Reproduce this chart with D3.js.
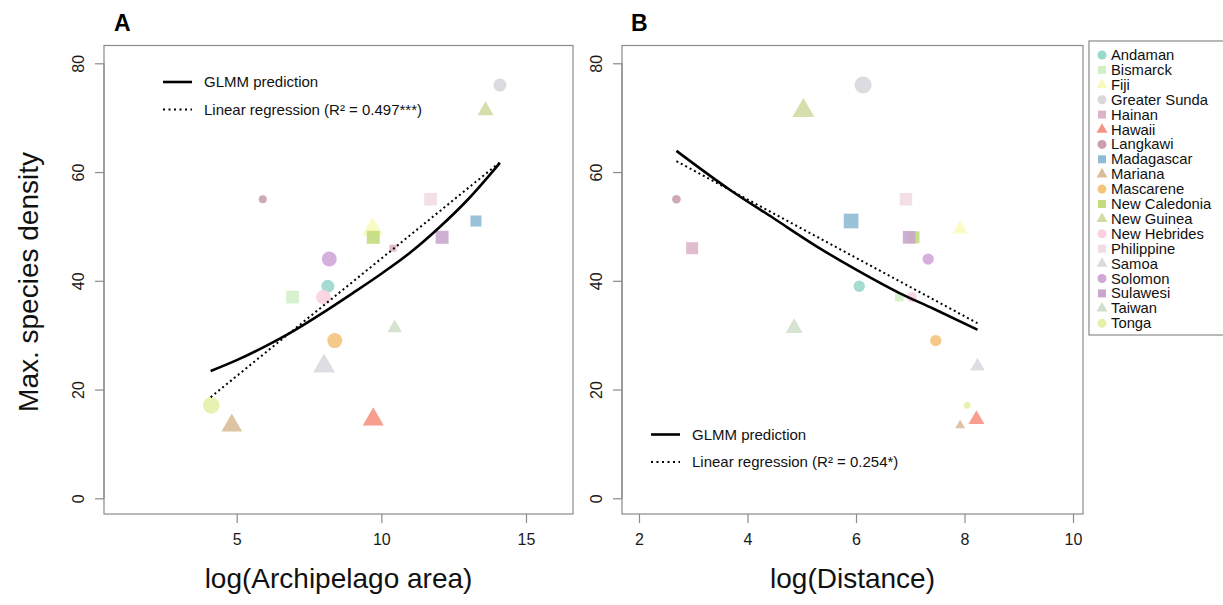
<!DOCTYPE html>
<html>
<head>
<meta charset="utf-8">
<script src="https://cdn.jsdelivr.net/npm/d3@7"></script>
<style>
  body { margin: 0; background: #fff; }
  svg { font-family: "Liberation Sans", Arial, sans-serif; }
</style>
</head>
<body>
<svg id="chart" width="1223" height="605"></svg>
<script>
// archipelagos, in legend order
var islands = ['Andaman', 'Bismarck', 'Fiji', 'Greater Sunda', 'Hainan', 'Hawaii', 'Langkawi',
  'Madagascar', 'Mariana', 'Mascarene', 'New Caledonia', 'New Guinea', 'New Hebrides',
  'Philippine', 'Samoa', 'Solomon', 'Sulawesi', 'Taiwan', 'Tonga'];
var shapes = ['circle', 'square', 'triangle', 'circle', 'square', 'triangle', 'circle',
  'square', 'triangle', 'circle', 'square', 'triangle', 'circle',
  'square', 'triangle', 'circle', 'square', 'triangle', 'circle'];
var colors = ['#9bd8cd', '#d3efc9', '#f9f9bd', '#d9d7db', '#ddb5c9', '#f69383', '#caa0ac',
  '#8fbbd5', '#d9be99', '#f4c37c', '#c3dc7c', '#d1dca2', '#fad0e1',
  '#f1dbe4', '#dcd8e0', '#d1a7d8', '#c9a7cd', '#d1e0cc', '#e7f0a8'];

var density = [39, 37, 49.5, 76, 46, 14.5, 55, 51, 13.4, 29, 48, 71.3, 37, 55, 24.3, 44, 48, 31.3, 17.1];
var logArea = [8.15, 6.93, 9.7, 14.1, 10.4, 9.72, 5.9, 13.27, 4.83, 8.39, 9.72, 13.6, 8.0, 11.7, 8.02, 8.2, 12.1, 10.46, 4.12];
var logDist = [6.06, 6.8, 7.92, 6.13, 2.98, 8.22, 2.69, 5.91, 7.92, 7.47, 7.06, 5.03, 7.03, 6.92, 8.24, 7.33, 6.98, 4.86, 8.05];

// marker weight shown in each panel
var weightA = [13, 12.7, 21, 13, 7, 21, 8, 11, 20.7, 15, 13, 16, 14.7, 12.7, 22, 15, 13, 14.7, 16.7];
var weightB = [11.3, 8.7, 15, 17, 12, 16, 8.7, 14.7, 10, 11.3, 12, 22, 10, 12.5, 14.7, 11.3, 12.7, 17, 6.7];

// fitted curves
var glmmAx = [4.1, 5, 6, 7, 8, 9, 10, 11, 12, 13, 14.1];
var glmmAy = [23.4, 25.4, 28.0, 30.9, 34.2, 37.7, 41.3, 45.2, 49.8, 55.0, 61.7];
var linAx = [4.1, 14.1];
var linAy = [18.6, 61.8];
var glmmBx = [2.69, 3.68, 4.48, 5.28, 6.01, 6.81, 7.42, 8.24];
var glmmBy = [63.9, 56.7, 51.5, 46.3, 42.0, 37.7, 34.9, 31.0];
var linBx = [2.69, 8.24];
var linBy = [62.0, 32.2];

var yTicks = [0, 20, 40, 60, 80];
var xTicksA = [5, 10, 15];
var xTicksB = [2, 4, 6, 8, 10];

var svg = d3.select('#chart');

var y = d3.scaleLinear().domain([0, 80]).range([498.3, 63.3]);
var sizeScale = d3.scaleLinear().domain([0, 22]).range([0, 22]);

function symbolPath(shape, w) {
  var area;
  if (shape === 'circle') area = Math.PI * w * w / 4;
  else if (shape === 'square') area = w * w;
  else area = Math.sqrt(3) / 4 * w * w;
  var type = shape === 'circle' ? d3.symbolCircle : (shape === 'square' ? d3.symbolSquare : d3.symbolTriangle);
  return d3.symbol().type(type).size(area)();
}

function drawPanel(p) {
  var g = svg.append('g');
  var x = d3.scaleLinear().domain(p.xDomain).range(p.xRange);

  // points
  var pts = islands.map(function(name, i) {
    return { name: name, x: p.xs[i], y: density[i], w: p.weights[i], shape: shapes[i], color: colors[i] };
  });
  g.selectAll('path.pt')
    .data(pts)
    .enter().append('path')
      .attr('class', 'pt')
      .attr('d', function(d) { return symbolPath(d.shape, sizeScale(d.w)); })
      .attr('transform', function(d) { return 'translate(' + x(d.x) + ',' + y(d.y) + ')'; })
      .attr('fill', function(d) { return d.color; })
      .attr('fill-opacity', 0.9);

  var line = d3.line()
    .x(function(d) { return x(d[0]); })
    .y(function(d) { return y(d[1]); })
    .curve(d3.curveMonotoneX);

  g.append('path')
    .datum(d3.zip(p.glmmX, p.glmmY))
    .attr('d', line)
    .attr('fill', 'none')
    .attr('stroke', '#000')
    .attr('stroke-width', 2.6);

  g.append('path')
    .datum(d3.zip(p.linX, p.linY))
    .attr('d', line)
    .attr('fill', 'none')
    .attr('stroke', '#000')
    .attr('stroke-width', 2)
    .attr('stroke-dasharray', '2,3');

  // box
  g.append('rect')
    .attr('x', p.box[0]).attr('y', 45.5)
    .attr('width', p.box[1] - p.box[0]).attr('height', 514 - 45.5)
    .attr('fill', 'none')
    .attr('stroke', '#8a8a8a')
    .attr('stroke-width', 1.2);

  // axes
  var xAxis = g.append('g')
    .attr('transform', 'translate(0,514)')
    .call(d3.axisBottom(x).tickValues(p.xTicks).tickSize(9).tickPadding(11).tickFormat(d3.format('d')));
  var yAxis = g.append('g')
    .attr('transform', 'translate(' + p.box[0] + ',0)')
    .call(d3.axisLeft(y).tickValues(yTicks).tickSize(9).tickFormat(d3.format('d')));
  [xAxis, yAxis].forEach(function(a) {
    a.attr('font-size', 16).attr('font-family', '"Liberation Sans", Arial, sans-serif');
    a.select('.domain').attr('stroke', '#8a8a8a').attr('stroke-width', 1.2);
    a.selectAll('.tick line').attr('stroke', '#8a8a8a').attr('stroke-width', 1.2);
    a.selectAll('.tick text').attr('fill', '#1a1a1a');
  });
  xAxis.select('.domain').remove();
  yAxis.select('.domain').attr('d', 'M0,' + y(0) + 'V' + y(80));
  yAxis.selectAll('.tick text')
    .attr('x', null).attr('dy', null)
    .attr('text-anchor', 'middle')
    .attr('transform', 'translate(-26,0) rotate(-90)')
    .attr('dy', '0.35em');

  // panel letter
  g.append('text')
    .attr('x', p.letterX).attr('y', 31)
    .style('font-size', '23px').style('font-weight', 'bold')
    .text(p.letter);

  // axis title
  g.append('text')
    .attr('x', (p.box[0] + p.box[1]) / 2).attr('y', 588)
    .attr('text-anchor', 'middle')
    .style('font-size', '28px')
    .attr('fill', '#111')
    .text(p.xTitle);

  // line legend
  var lg = g.append('g').attr('transform', 'translate(' + p.legend[0] + ',' + p.legend[1] + ')');
  lg.append('line').attr('x1', 0).attr('x2', 29).attr('y1', 0).attr('y2', 0)
    .attr('stroke', '#000').attr('stroke-width', 2.6);
  lg.append('line').attr('x1', 0).attr('x2', 29).attr('y1', 27.5).attr('y2', 27.5)
    .attr('stroke', '#000').attr('stroke-width', 2).attr('stroke-dasharray', '2,3.5');
  lg.append('text').attr('x', 41).attr('y', 5).style('font-size', '15px').attr('fill', '#111').text('GLMM prediction');
  lg.append('text').attr('x', 41).attr('y', 32.5).style('font-size', '15px').attr('fill', '#111').text(p.linLabel);
}

drawPanel({
  letter: 'A', letterX: 114,
  xs: logArea, weights: weightA,
  xDomain: [5, 15], xRange: [236.7, 526], xTicks: xTicksA,
  box: [104, 573],
  glmmX: glmmAx, glmmY: glmmAy, linX: linAx, linY: linAy,
  xTitle: 'log(Archipelago area)',
  legend: [163, 82], linLabel: 'Linear regression (R\u00b2 = 0.497***)'
});

drawPanel({
  letter: 'B', letterX: 631,
  xs: logDist, weights: weightB,
  xDomain: [2, 10], xRange: [639, 1073], xTicks: xTicksB,
  box: [622, 1083],
  glmmX: glmmBx, glmmY: glmmBy, linX: linBx, linY: linBy,
  xTitle: 'log(Distance)',
  legend: [651, 434.5], linLabel: 'Linear regression (R\u00b2 = 0.254*)'
});

// shared y title
svg.append('text')
  .attr('transform', 'translate(38,282) rotate(-90)')
  .attr('text-anchor', 'middle')
  .style('font-size', '28px')
  .attr('fill', '#111')
  .text('Max. species density');

// island legend
var key = svg.append('g');
key.append('rect')
  .attr('x', 1089).attr('y', 41)
  .attr('width', 160).attr('height', 294)
  .attr('fill', 'none')
  .attr('stroke', '#8a8a8a')
  .attr('stroke-width', 1.2);
var item = key.selectAll('g.item')
  .data(islands)
  .enter().append('g')
    .attr('class', 'item')
    .attr('transform', function(d, i) { return 'translate(1102,' + (55 + i * 14.9) + ')'; });
item.append('path')
  .attr('d', function(d, i) { return symbolPath(shapes[i], shapes[i] === 'triangle' ? 11 : (shapes[i] === 'square' ? 8 : 9)); })
  .attr('fill', function(d, i) { return colors[i]; });
item.append('text')
  .attr('x', 9).attr('y', 5)
  .style('font-size', '14.8px')
  .attr('fill', '#111')
  .text(function(d) { return d; });
</script>
</body>
</html>
